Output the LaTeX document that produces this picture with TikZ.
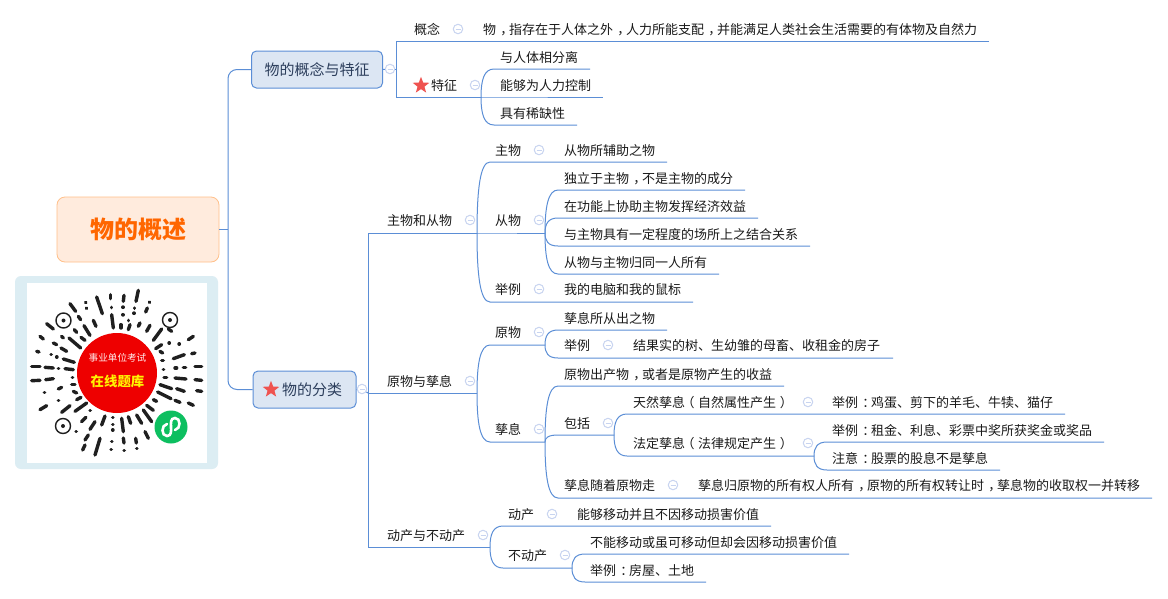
\documentclass[tikz,border=0pt]{standalone}
\usepackage{fontspec}
\setmainfont{Noto Sans CJK SC}
\usetikzlibrary{shapes.geometric,calc}
\definecolor{lnk}{HTML}{5B8ED6}
\definecolor{boxf}{HTML}{DCE6F3}
\definecolor{txt}{HTML}{1A1A1A}
\definecolor{boxt}{HTML}{2C3E5C}
\definecolor{starc}{HTML}{EF5350}
\definecolor{coll}{HTML}{C8D4F0}
\definecolor{rootf}{HTML}{FFEBDD}
\definecolor{rootd}{HTML}{FFC08A}
\definecolor{roott}{HTML}{FF6600}
\definecolor{qrbg}{HTML}{DCEDF3}
\definecolor{qrred}{HTML}{EE0000}
\definecolor{qrgreen}{HTML}{0DBF60}
\newcommand\fcm{\hspace{.32em}，\hspace{-.32em}}
\newcommand\fcl{\hspace{.32em}：\hspace{-.32em}}
\newcommand\flp{\hspace{-.28em}（\hspace{.28em}}
\newcommand\frp{\hspace{.28em}）\hspace{-.28em}}
\tikzset{
  link/.style={draw=lnk,line width=1pt},
  tp/.style={anchor=west,inner sep=0pt,text=txt,font=\fontsize{13}{15}\selectfont},
  mainbox/.style={draw=lnk,line width=1pt,fill=boxf,rounded corners=5pt,text=boxt,inner sep=0pt,font=\fontsize{15}{17}\selectfont},
  rootbox/.style={draw=rootd,line width=0.8pt,fill=rootf,rounded corners=8pt,inner sep=0pt},
  collbtn/.style={circle,draw=coll,line width=1pt,fill=white,minimum size=9.5pt,inner sep=0pt},
  starn/.style={shape=star,star points=5,star point ratio=2.4,fill=starc,draw=none,minimum size=17.5pt,inner sep=0pt},
  qr/.style={line width=3.4pt,line cap=round,draw=black!88},
  finder/.style={circle,draw=black!88,line width=1.4pt,fill=white,minimum size=15pt,inner sep=0pt}
}
% name, line start x, text x, text y, line y, line end x, text
\newcommand\tpc[7]{%
  \node[tp] (#1) at (#3,#4+0.5) {#7};
  \coordinate (#1-s) at (#2,#5);
  \coordinate (#1-e) at (#6,#5);
}
\newcommand\cbtn[3]{%
  \node[collbtn] (#1) at (#2,#3) {};
  \draw[coll,line width=1pt] (#2-2.5,#3) -- (#2+2.5,#3);
}
% parent name, child name: curve from the end of the parent's line to the child's line
\newcommand\cl[2]{\draw[link] (#1-e) .. controls ($(#1-e)!0.6!(#1-e |- #2-s)$) and ($(#1-e |- #2-s)+(3,0)$) .. (#2-s) -- (#2-e);}
\begin{document}
\begin{tikzpicture}[x=1pt,y=-1pt]
\useasboundingbox (0,0) rectangle (1168,598);
\fill[white] (0,0) rectangle (1168,598);
% main boxes
\node[rootbox,minimum width=162pt,minimum height=65pt] (root) at (138,229.5) {\fontsize{24}{26}\selectfont\bfseries\color{roott}物的概述};
\node[mainbox,minimum width=131pt,minimum height=37pt] (b1) at (317,69.5) {物的概念与特征};
\node[mainbox,minimum width=103pt,minimum height=37pt] (b2) at (304.5,389.5) {\hspace{15pt}物的分类};
\node[starn] (s2) at (271,389.5) {};
\coordinate (jr) at (228,229.5);
\draw[link] (root.east) -- (jr);
\draw[link,rounded corners=9pt] (b1.west) -| (jr) |- (b2.west);
% branch 1
\cbtn{c1}{390}{69}
\coordinate (j1) at (396,69);
\draw[link] (b1.east) -- (c1);
\draw[link] (c1) -- (j1);
\tpc{gn}{396}{414}{29}{41}{989}{概念}
\cbtn{cgn}{458}{29}
\node[tp] (gnt) at (483,29.5) {物\fcm 指存在于人体之外\fcm 人力所能支配\fcm 并能满足人类社会生活需要的有体物及自然力};
\tpc{tz}{396}{431}{85}{97}{481}{特征}
\node[starn] (s1) at (421,85.5) {};
\cbtn{ctz}{475}{85}
\draw[link] (gn-e) -- (gn-s) -- (tz-s) -- (tz-e);
\tpc{a1}{494}{500}{57}{69}{590}{与人体相分离}
\tpc{a2}{494}{500}{85}{97}{603}{能够为人力控制}
\tpc{a3}{494}{500}{113}{125}{577}{具有稀缺性}
\cl{tz}{a1}\cl{tz}{a2}\cl{tz}{a3}
% branch 2 bus
\cbtn{c2}{362}{389}
\draw[link] (b2.east) -- (c2);
\tpc{zc}{368}{387}{220}{233}{477}{主物和从物}
\cbtn{czc}{470}{220}
\tpc{yw}{368}{387}{381}{393}{477}{原物与孳息}
\cbtn{cyw}{470}{381}
\tpc{dc}{368}{387}{535}{547}{490}{动产与不动产}
\cbtn{cdc}{483}{535}
\draw[link] (zc-e) -- (zc-s) -- (dc-s) -- (dc-e);
\draw[link] (yw-s) -- (yw-e);
\draw[link] (c2) -- (yw-s);
% zhuwu congwu
\tpc{zw}{490}{495}{150}{162}{667}{主物}
\cbtn{czw}{539}{150}
\node[tp] (zwt) at (564,150.5) {从物所辅助之物};
\tpc{cw}{490}{495}{220}{233}{545}{从物}
\cbtn{ccw}{539}{220}
\tpc{jl}{490}{495}{289}{302}{693}{举例}
\cbtn{cjl}{539}{289}
\node[tp] (jlt) at (564,289.5) {我的电脑和我的鼠标};
\cl{zc}{zw}\cl{zc}{cw}\cl{zc}{jl}
\tpc{b11}{558}{564}{178}{190}{745}{独立于主物\fcm 不是主物的成分}
\tpc{b12}{558}{564}{206}{218}{758}{在功能上协助主物发挥经济效益}
\tpc{b13}{558}{564}{234}{246}{810}{与主物具有一定程度的场所上之结合关系}
\tpc{b14}{558}{564}{262}{274}{719}{从物与主物归同一人所有}
\cl{cw}{b11}\cl{cw}{b12}\cl{cw}{b13}\cl{cw}{b14}
% yuanwu
\tpc{yy}{490}{495}{332}{345}{545}{原物}
\cbtn{cyy}{539}{332}
\tpc{zx}{490}{495}{429}{442}{545}{孳息}
\cbtn{czx}{539}{429}
\cl{yw}{yy}\cl{yw}{zx}
\tpc{y1}{558}{564}{318}{330}{667}{孳息所从出之物}
\tpc{y2}{558}{564}{345}{358}{893}{举例}
\cbtn{cy2}{608}{345}
\node[tp] (y2t) at (633,345.5) {结果实的树、生幼雏的母畜、收租金的房子};
\cl{yy}{y1}\cl{yy}{y2}
\tpc{z1}{558}{564}{374}{386}{784}{原物出产物\fcm 或者是原物产生的收益}
\tpc{z2}{558}{564}{423}{435}{614}{包括}
\cbtn{cz2}{608}{423}
\tpc{z3}{558}{564}{485}{498}{1152}{孳息随着原物走}
\cbtn{cz3}{673}{485}
\node[tp] (z3t) at (698,485.5) {孳息归原物的所有权人所有\fcm 原物的所有权转让时\fcm 孳息物的收取权一并转移};
\cl{zx}{z1}\cl{zx}{z2}\cl{zx}{z3}
\tpc{t1}{627}{633}{402}{414}{1065}{天然孳息\flp 自然属性产生\frp}
\cbtn{ct1}{808}{402}
\node[tp] (t1t) at (832,402.5) {举例\fcl 鸡蛋、剪下的羊毛、牛犊、猫仔};
\tpc{t2}{627}{633}{443}{456}{814}{法定孳息\flp 法律规定产生\frp}
\cbtn{ct2}{808}{443}
\cl{z2}{t1}\cl{z2}{t2}
\tpc{u1}{827}{832}{430}{442}{1104}{举例\fcl 租金、利息、彩票中奖所获奖金或奖品}
\tpc{u2}{827}{832}{458}{470}{1000}{注意\fcl 股票的股息不是孳息}
\cl{t2}{u1}\cl{t2}{u2}
% dongchan
\tpc{d1}{503}{508}{514}{526}{771}{动产}
\cbtn{cd1}{552}{514}
\node[tp] (d1t) at (577,514.5) {能够移动并且不因移动损害价值};
\tpc{d2}{503}{508}{555}{568}{572}{不动产}
\cbtn{cd2}{565}{555}
\cl{dc}{d1}\cl{dc}{d2}
\tpc{e1}{585}{590}{542}{554}{849}{不能移动或虽可移动但却会因移动损害价值}
\tpc{e2}{585}{590}{570}{582}{706}{举例\fcl 房屋、土地}
\cl{d2}{e1}\cl{d2}{e2}
% QR
\fill[qrbg,rounded corners=6pt] (15,276) rectangle (218,469);
\fill[white] (27,283) rectangle (207,463);
\foreach \xa/\ya/\xb/\yb in {
340/22/333/55,297/37/295/55,257/35/257/47,215/42/232/92,182/58/183/59,184/75/185/76,135/62/152/85,373/57/374/58,367/75/362/87,294/72/294/73,294/95/294/96,260/73/260/74,260/95/265/135,328/75/328/76,327/90/327/91,310/112/310/113,
160/100/167/110,205/112/213/130,177/128/195/157,148/140/155/148,168/163/180/172,65/122/85/138,288/125/288/135,315/125/310/140,345/120/340/130,375/127/365/145,410/138/385/172,132/165/167/195,110/160/115/165,430/138/440/145,505/160/490/170,462/183/463/183,432/180/433/180,410/185/392/197,413/210/405/205,478/215/445/227,500/212/510/210,
45/160/55/168,85/180/95/185,108/195/125/205,35/205/42/207,78/215/79/215,95/222/96/222,115/228/148/238,410/233/415/233,455/255/450/255,475/253/482/253,510/250/530/250,
20/250/45/250,60/253/85/255,100/257/101/257,120/257/145/260,415/260/416/260,417/283/425/283,450/285/483/288,510/290/530/292,20/293/45/292,62/290/85/287,142/283/143/283,100/318/110/313,140/305/150/305,405/305/440/317,455/317/478/325,515/323/530/325,58/328/59/328,145/325/155/330,398/327/438/347,450/352/465/358,490/360/505/367,100/352/101/352,155/350/168/343,45/380/65/368,110/388/135/368,150/385/185/360,385/350/395/355,365/367/385/382,
195/382/196/382,173/501/180/486,210/516/225/466,190/456/180/471,260/475/261/475,258/500/259/500,295/465/297/480,297/503/298/503,332/466/334/480,335/497/336/497,360/446/370/466,290/406/295/446,263/403/264/403,263/424/264/424,263/441/264/441,230/426/240/399,195/439/210/416,170/416/183/403,153/446/154/446,310/401/317/421,335/396/350/421,355/381/380/416}{
  \draw[qr] ({25+\xa/3},{283+\ya/3}) -- ({25+\xb/3},{283+\yb/3});
}
\node[finder] (f1) at (63.5,320.5) {};
\node[finder] (f2) at (170,320) {};
\node[finder] (f3) at (63,426) {};
\fill[black!88] (f1) circle (2pt) (f2) circle (2pt) (f3) circle (2pt);
\node[circle,fill=qrred,minimum size=80pt,inner sep=0pt] (red) at (117,373) {};
\node[inner sep=0pt,text=white!92!red,font=\fontsize{9.6}{11}\selectfont] (q1) at (117.5,358) {事业单位考试};
\node[inner sep=0pt,text=yellow,font=\fontsize{13.4}{15}\selectfont\bfseries] (q2) at (117.5,381) {在线题库};
\node[circle,fill=qrgreen,minimum size=33pt,inner sep=0pt] (gr) at (171,427) {};
\draw[white,line width=2.6pt,line cap=round] (167,424) .. controls (161,425) and (161,436) .. (167,436) .. controls (172,436) and (171,430) .. (171,427) .. controls (171,424) and (170,418) .. (175,418) .. controls (181,418) and (181,429) .. (175,430);
\end{tikzpicture}
\end{document}
